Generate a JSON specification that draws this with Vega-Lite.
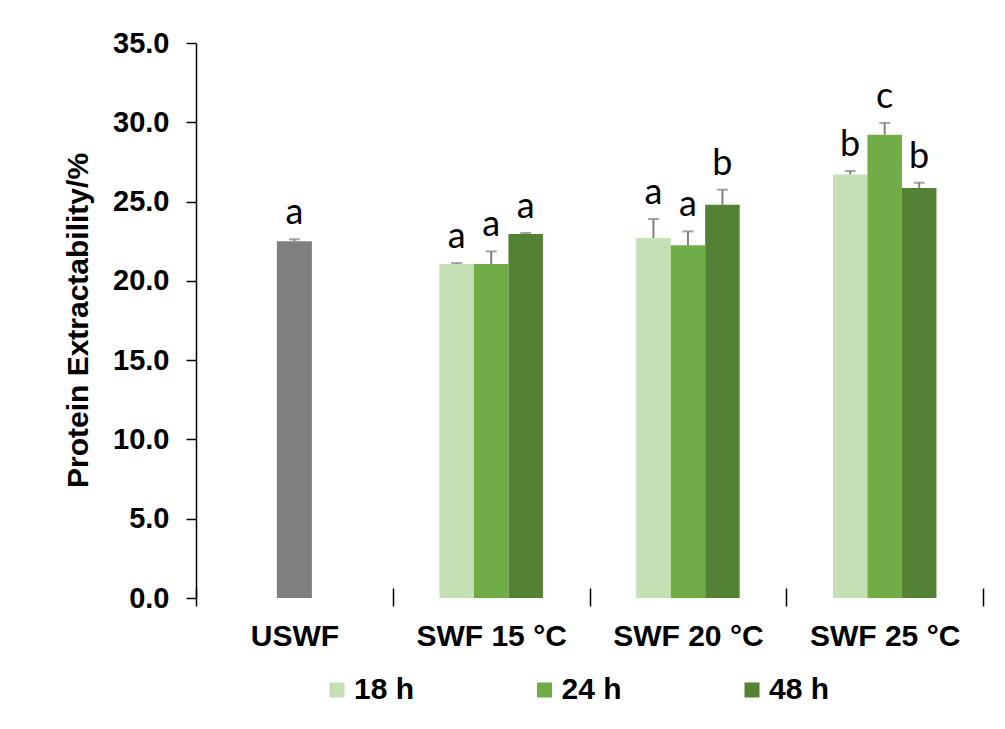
{
  "$schema": "https://vega.github.io/schema/vega-lite/v6.json",
  "width": 787,
  "height": 555,
  "autosize": "none",
  "padding": {"left": 196, "top": 43, "right": 22, "bottom": 131},
  "background": "white",
  "config": {"view": {"stroke": null}},
  "datasets": {
    "control": [
      {"group": "USWF", "value": 22.5, "upper": 22.62, "letter": "a"}
    ],
    "treated": [
      {"group": "SWF 15 °C", "time": "18 h", "value": 21.06, "upper": 21.12, "letter": "a"},
      {"group": "SWF 15 °C", "time": "24 h", "value": 21.06, "upper": 21.86, "letter": "a"},
      {"group": "SWF 15 °C", "time": "48 h", "value": 22.96, "upper": 23.02, "letter": "a"},
      {"group": "SWF 20 °C", "time": "18 h", "value": 22.7, "upper": 23.9, "letter": "a"},
      {"group": "SWF 20 °C", "time": "24 h", "value": 22.24, "upper": 23.12, "letter": "a"},
      {"group": "SWF 20 °C", "time": "48 h", "value": 24.8, "upper": 25.75, "letter": "b"},
      {"group": "SWF 25 °C", "time": "18 h", "value": 26.71, "upper": 26.93, "letter": "b"},
      {"group": "SWF 25 °C", "time": "24 h", "value": 29.22, "upper": 29.96, "letter": "c"},
      {"group": "SWF 25 °C", "time": "48 h", "value": 25.86, "upper": 26.19, "letter": "b"}
    ]
  },
  "encoding": {
    "x": {
      "field": "group",
      "type": "nominal",
      "sort": ["USWF", "SWF 15 °C", "SWF 20 °C", "SWF 25 °C"],
      "scale": {"domain": ["USWF", "SWF 15 °C", "SWF 20 °C", "SWF 25 °C"], "paddingInner": 0, "paddingOuter": 0},
      "axis": {
        "title": null,
        "labelAngle": 0,
        "labelFont": "Liberation Sans",
        "labelFontWeight": "bold",
        "labelFontSize": 30,
        "labelColor": "black",
        "labelPadding": 15,
        "domain": false,
        "ticks": true,
        "tickBand": "extent",
        "tickColor": "black",
        "tickWidth": 1.5,
        "tickSize": 18,
        "offset": -10
      }
    }
  },
  "layer": [
    {
      "data": {"name": "control"},
      "mark": {"type": "bar", "color": "#7f7f7f", "width": {"band": 0.178}},
      "encoding": {
        "y": {
          "field": "value",
          "type": "quantitative",
          "scale": {"domain": [0, 35], "nice": false},
          "axis": {
            "title": "Protein Extractability/%",
            "titleFont": "Liberation Sans",
            "titleFontWeight": "bold",
            "titleFontSize": 30,
            "titleColor": "black",
            "titleAngle": -90,
            "titleAlign": "center",
            "titleBaseline": "middle",
            "titleX": -118,
            "titleY": 277,
            "values": [0, 5, 10, 15, 20, 25, 30, 35],
            "format": ".1f",
            "labelFont": "Liberation Sans",
            "labelFontWeight": "bold",
            "labelFontSize": 29,
            "labelColor": "black",
            "labelPadding": 17,
            "grid": false,
            "domainColor": "black",
            "domainWidth": 1.5,
            "tickColor": "black",
            "tickWidth": 1.5,
            "tickSize": 10
          }
        }
      }
    },
    {
      "data": {"name": "control"},
      "mark": {"type": "rule", "color": "#808080", "strokeWidth": 2},
      "encoding": {"y": {"field": "value", "type": "quantitative"}, "y2": {"field": "upper"}}
    },
    {
      "data": {"name": "control"},
      "mark": {"type": "tick", "color": "#808080", "thickness": 2, "size": 11},
      "encoding": {"y": {"field": "upper", "type": "quantitative"}}
    },
    {
      "data": {"name": "control"},
      "mark": {"type": "text", "font": "Lato", "fontSize": 36, "color": "black", "baseline": "alphabetic", "dy": -15},
      "encoding": {"y": {"field": "upper", "type": "quantitative"}, "text": {"field": "letter"}}
    },
    {
      "data": {"name": "treated"},
      "mark": {"type": "bar"},
      "encoding": {
        "xOffset": {"field": "time", "type": "nominal", "scale": {"domain": ["18 h", "24 h", "48 h"], "range": [46.7, 150.2], "paddingInner": 0, "paddingOuter": 0}},
        "y": {"field": "value", "type": "quantitative"},
        "color": {
          "field": "time",
          "type": "nominal",
          "scale": {"domain": ["18 h", "24 h", "48 h"], "range": ["#c5e0b4", "#70ad47", "#548235"]},
          "legend": {
            "title": null,
            "orient": "none",
            "direction": "horizontal",
            "legendX": 126,
            "legendY": 632,
            "padding": 0,
            "symbolType": "square",
            "symbolSize": 225,
            "symbolStrokeWidth": 0,
            "symbolOpacity": 1,
            "labelFont": "Liberation Sans",
            "labelFontWeight": "bold",
            "labelFontSize": 30,
            "labelColor": "black",
            "labelOffset": 2,
            "columnPadding": 114.5
          }
        }
      }
    },
    {
      "data": {"name": "treated"},
      "mark": {"type": "rule", "color": "#808080", "strokeWidth": 2},
      "encoding": {
        "xOffset": {"field": "time", "type": "nominal"},
        "y": {"field": "value", "type": "quantitative"},
        "y2": {"field": "upper"}
      }
    },
    {
      "data": {"name": "treated"},
      "mark": {"type": "tick", "color": "#808080", "thickness": 2, "size": 11},
      "encoding": {
        "xOffset": {"field": "time", "type": "nominal"},
        "y": {"field": "upper", "type": "quantitative"}
      }
    },
    {
      "data": {"name": "treated"},
      "mark": {"type": "text", "font": "Lato", "fontSize": 36, "color": "black", "baseline": "alphabetic", "dy": -15},
      "encoding": {
        "xOffset": {"field": "time", "type": "nominal"},
        "y": {"field": "upper", "type": "quantitative"},
        "text": {"field": "letter"}
      }
    },
    {
      "data": {"values": [{}]},
      "mark": {"type": "rule", "color": "black", "strokeWidth": 1.5},
      "encoding": {"y": {"datum": 0}}
    }
  ]
}
